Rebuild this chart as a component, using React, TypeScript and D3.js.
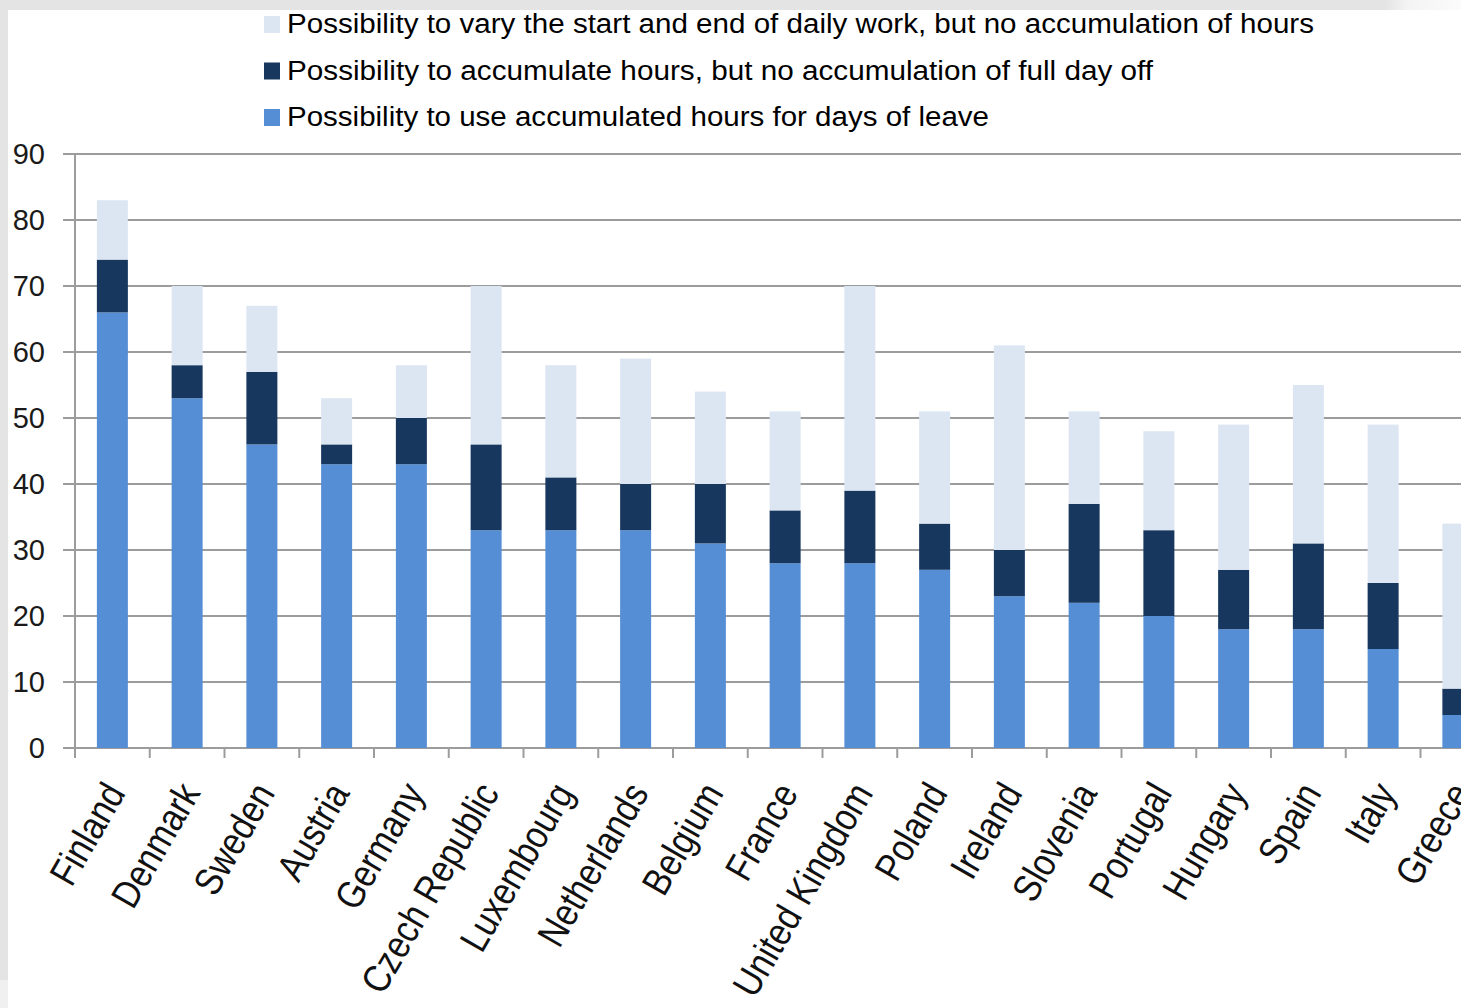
import React from "react";
import * as d3 from "d3";

const countries = [
  "Finland", "Denmark", "Sweden", "Austria", "Germany", "Czech Republic",
  "Luxembourg", "Netherlands", "Belgium", "France", "United Kingdom", "Poland",
  "Ireland", "Slovenia", "Portugal", "Hungary", "Spain", "Italy", "Greece",
];

// Possibility to use accumulated hours for days of leave
const useAccumulated = [66, 53, 46, 43, 43, 33, 33, 33, 31, 28, 28, 27, 23, 22, 20, 18, 18, 15, 5];
// Possibility to accumulate hours, but no accumulation of full day off
const accumulateOnly = [8, 5, 11, 3, 7, 13, 8, 7, 9, 8, 11, 7, 7, 15, 13, 9, 13, 10, 4];
// Possibility to vary the start and end of daily work, but no accumulation of hours
const varyOnly = [9, 12, 10, 7, 8, 24, 17, 19, 14, 15, 31, 17, 31, 14, 15, 22, 24, 24, 25];

const seriesNames = [
  "Possibility to vary the start and end of daily work, but no accumulation of hours",
  "Possibility to accumulate hours, but no accumulation of full day off",
  "Possibility to use accumulated hours for days of leave",
];
const seriesColors = ["#dce6f2", "#17375e", "#558ed5"];
const legendWidths = [1027, 866, 702];

const yTicks = [0, 10, 20, 30, 40, 50, 60, 70, 80, 90];

const W = 1461;
const H = 1008;

export default function App() {
  const x0 = 75;
  const step = 74.75;
  const x = d3
    .scaleBand<string>()
    .domain(countries)
    .range([x0, x0 + step * countries.length])
    .padding(0);
  const y = d3.scaleLinear().domain([0, 90]).range([748, 154]);
  const barW = 31;

  const rows = countries.map((c, i) => ({
    country: c,
    use: useAccumulated[i],
    acc: accumulateOnly[i],
    vary: varyOnly[i],
  }));
  const stack = d3.stack<any>().keys(["use", "acc", "vary"])(rows);
  const keyColor: Record<string, string> = {
    use: seriesColors[2],
    acc: seriesColors[1],
    vary: seriesColors[0],
  };

  const gridColor = "#9c9c9c";
  const font = "'Liberation Sans', Arial, sans-serif";

  return (
    <svg
      width={W}
      height={H}
      style={{ position: "fixed", left: 0, top: 0, display: "block" }}
    >
      <defs>
        <linearGradient id="corner" x1="0" x2="1" y1="0" y2="0">
          <stop offset="0" stopColor="#e4e4e4" />
          <stop offset="0.3" stopColor="#f4f4f4" />
          <stop offset="1" stopColor="#fbfbfb" />
        </linearGradient>
      </defs>
      <rect x={0} y={0} width={W} height={H} fill="#e4e4e4" />
      <rect x={1385} y={0} width={W - 1385} height={10} fill="url(#corner)" />
      <rect x={0} y={980} width={8} height={H - 980} fill="#f0f0f0" />
      <rect x={8} y={10} width={W - 8} height={H - 10} fill="#ffffff" />

      {/* gridlines */}
      {yTicks.map((t) => (
        <line
          key={t}
          x1={63}
          x2={W}
          y1={y(t)}
          y2={y(t)}
          stroke={gridColor}
          strokeWidth={2}
        />
      ))}
      {/* y axis line */}
      <line x1={x0} x2={x0} y1={y(90)} y2={y(0)} stroke={gridColor} strokeWidth={2} />
      {/* x ticks */}
      {countries.map((c) => (
        <line
          key={c}
          x1={x(c) as number}
          x2={x(c) as number}
          y1={y(0)}
          y2={y(0) + 10}
          stroke={gridColor}
          strokeWidth={2}
        />
      ))}

      {/* bars */}
      {stack.map((s) => (
        <g key={s.key} fill={keyColor[s.key]}>
          {s.map((d: any) => {
            const cx = (x(d.data.country) as number) + x.bandwidth() / 2;
            return (
              <rect
                key={d.data.country}
                x={cx - barW / 2}
                y={y(d[1])}
                width={barW}
                height={y(d[0]) - y(d[1])}
              />
            );
          })}
        </g>
      ))}

      {/* y tick labels */}
      {yTicks.map((t) => (
        <text
          key={t}
          x={45}
          y={y(t)}
          dy="0.36em"
          textAnchor="end"
          fontFamily={font}
          fontSize={29}
          fill="#1a1a1a"
        >
          {t}
        </text>
      ))}

      {/* category labels */}
      {countries.map((c) => {
        const cx = (x(c) as number) + x.bandwidth() / 2;
        return (
          <text
            key={c}
            transform={`translate(${cx + 14},${y(0) + 45}) rotate(-60) scale(0.86,1)`}
            textAnchor="end"
            fontFamily={font}
            fontSize={39}
            fill="#111"
          >
            {c}
          </text>
        );
      })}

      {/* legend */}
      {seriesNames.map((n, i) => (
        <g key={n}>
          <rect x={264} y={16 + i * 46.5} width={16} height={17} fill={seriesColors[i]} />
          <text
            x={287}
            y={33 + i * 46.5}
            fontFamily={font}
            fontSize={27}
            textLength={legendWidths[i]}
            lengthAdjust="spacingAndGlyphs"
            fill="#000"
          >
            {n}
          </text>
        </g>
      ))}
    </svg>
  );
}
